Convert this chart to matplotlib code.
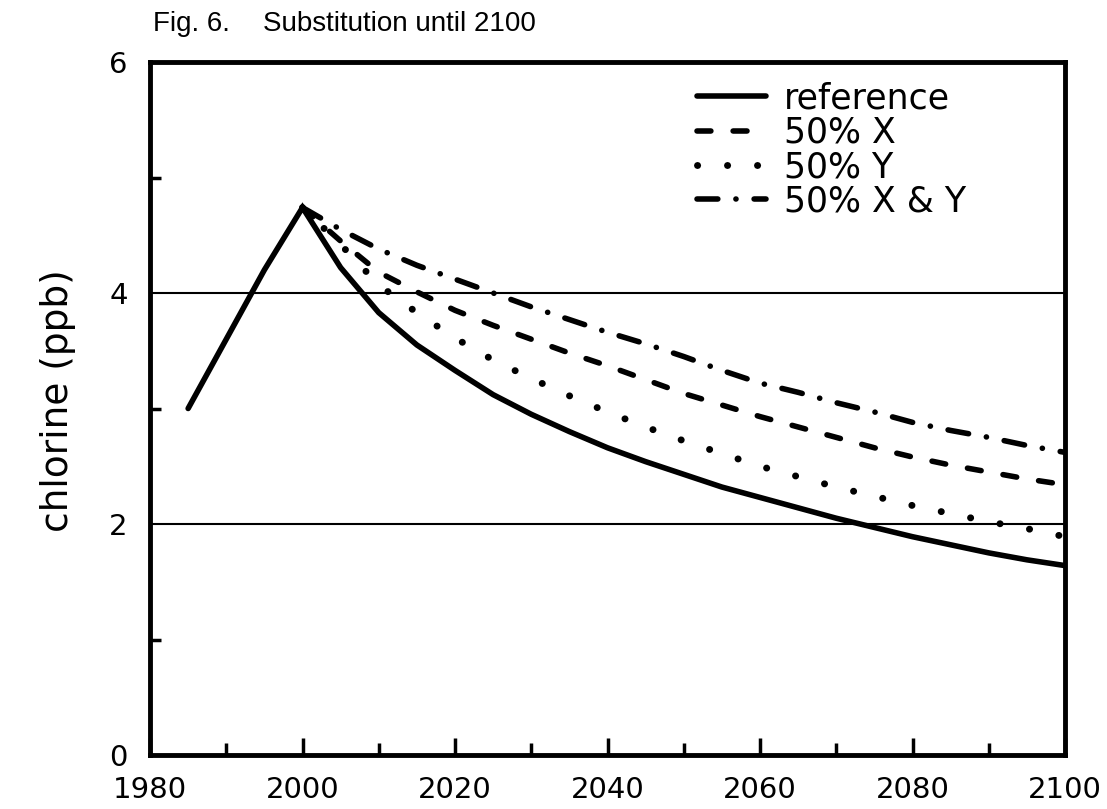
import matplotlib.pyplot as plt
from matplotlib.ticker import MultipleLocator

plt.rcParams['font.family'] = ['Liberation Sans', 'DejaVu Sans']
plt.rcParams['lines.scale_dashes'] = False

# reference run (starts 1985)
YEARS_REF = [1985, 1990, 1995, 2000, 2005, 2010, 2015, 2020, 2025, 2030,
             2035, 2040, 2045, 2050, 2055, 2060, 2065, 2070, 2075, 2080,
             2085, 2090, 2095, 2100]
REFERENCE = [3.00, 3.60, 4.20, 4.74, 4.22, 3.83, 3.55, 3.33, 3.12, 2.95,
             2.80, 2.66, 2.54, 2.43, 2.32, 2.23, 2.14, 2.05, 1.97, 1.89,
             1.82, 1.75, 1.69, 1.64]

# substitution runs (start at the 2000 peak)
YEARS_SUB = [2000, 2005, 2010, 2015, 2020, 2025, 2030, 2035, 2040, 2045,
             2050, 2055, 2060, 2065, 2070, 2075, 2080, 2085, 2090, 2095, 2100]
SUB_X = [4.74, 4.45, 4.18, 4.01, 3.85, 3.72, 3.60, 3.48, 3.37, 3.25,
         3.13, 3.03, 2.93, 2.84, 2.75, 2.66, 2.58, 2.51, 2.45, 2.39, 2.34]
SUB_Y = [4.74, 4.42, 4.07, 3.83, 3.61, 3.42, 3.26, 3.11, 2.97, 2.84,
         2.72, 2.61, 2.50, 2.41, 2.32, 2.24, 2.16, 2.09, 2.02, 1.96, 1.89]
SUB_XY = [4.74, 4.55, 4.38, 4.24, 4.12, 4.00, 3.88, 3.77, 3.66, 3.56,
          3.45, 3.33, 3.22, 3.14, 3.05, 2.97, 2.88, 2.81, 2.75, 2.68, 2.62]

LABELS = ["reference", "50% X", "50% Y", "50% X & Y"]

WIDE = ['DejaVu Sans']  # the scanned lettering is wider than Helvetica


def draw():
    fig = plt.figure(figsize=(11.07, 8.09), dpi=100)
    ax = fig.add_axes([150 / 1107, 1 - 755 / 809, 915 / 1107, 693 / 809])

    lw = 4
    ax.plot(YEARS_REF, REFERENCE, color="black", lw=lw,
            solid_capstyle="round", solid_joinstyle="miter", label=LABELS[0])
    ax.plot(YEARS_SUB, SUB_X, color="black", lw=lw, dash_capstyle="round",
            dashes=(10, 16), label=LABELS[1])
    ax.plot(YEARS_SUB, SUB_Y, color="black", lw=lw + 1, dash_capstyle="round",
            dashes=(0.1, 21.5), label=LABELS[2])
    ax.plot(YEARS_SUB, SUB_XY, color="black", lw=lw, dash_capstyle="round",
            dashes=(15, 13, 0.1, 13), label=LABELS[3])

    # thin horizontal rules at 2 and 4
    for yv in (2, 4):
        ax.axhline(yv, color="black", lw=1.5, zorder=1)

    ax.set_xlim(1980, 2100)
    ax.set_ylim(0, 6)
    ax.xaxis.set_major_locator(MultipleLocator(20))
    ax.xaxis.set_minor_locator(MultipleLocator(10))
    ax.yaxis.set_major_locator(MultipleLocator(2))
    ax.yaxis.set_minor_locator(MultipleLocator(1))

    for sp in ax.spines.values():
        sp.set_linewidth(3.5)

    ax.tick_params(axis="both", which="both", direction="in", width=2.5)
    ax.tick_params(axis="x", which="major", length=12, pad=15)
    ax.tick_params(axis="x", which="minor", length=9)
    ax.tick_params(axis="y", which="major", length=0, pad=16)
    ax.tick_params(axis="y", which="minor", length=8)
    for lab in ax.get_xticklabels() + ax.get_yticklabels():
        lab.set_fontfamily(WIDE)
        lab.set_fontsize(21)

    ax.set_ylabel("chlorine (ppb)", fontsize=27, family=WIDE, labelpad=24)
    ax.yaxis.label.set_y(0.512)

    fig.text(153 / 1107, 1 - 31 / 809, "Fig. 6.", fontsize=20,
             ha="left", va="baseline")
    fig.text(263 / 1107, 1 - 31 / 809, "Substitution until 2100", fontsize=20,
             ha="left", va="baseline")

    ax.legend(loc="upper left", bbox_to_anchor=((697 - 150) / 915, 0.972),
              frameon=False, prop={'family': WIDE, 'size': 25},
              handlelength=2.0, handletextpad=0.5,
              labelspacing=0.01, borderpad=0, borderaxespad=0)

    fig.savefig("out.png", dpi=100)


if __name__ == '__main__':
    draw()
